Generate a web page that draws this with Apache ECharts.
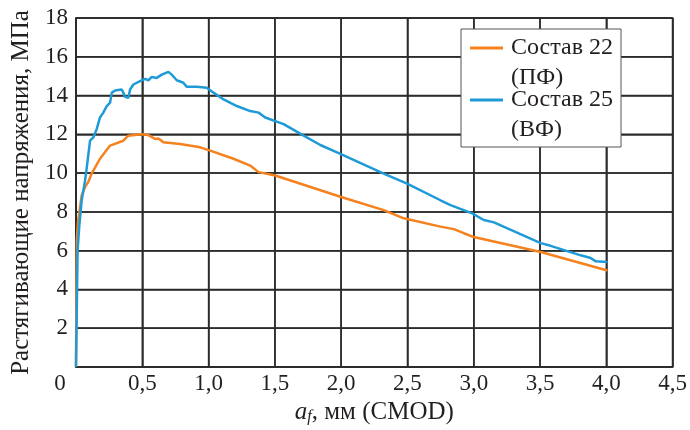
<!DOCTYPE html>
<html>
<head>
<meta charset="utf-8">
<script src="https://cdn.jsdelivr.net/npm/echarts@6/dist/echarts.min.js"></script>
<style>
  html, body { margin: 0; padding: 0; background: #fff; }
  #chart { width: 690px; height: 430px; }
</style>
</head>
<body>
<div id="chart"></div>
<script>
// Состав 22 (ПФ) – [CMOD мм, напряжение МПа]
const sostav22 = [
  [0, 0], [0.003, 4], [0.006, 6.5], [0.015, 7.5], [0.043, 8.86], [0.07, 9.3], [0.093, 9.55],
  [0.118, 9.97], [0.181, 10.74], [0.257, 11.42], [0.357, 11.67], [0.395, 11.93], [0.496, 12.01],
  [0.546, 11.96], [0.597, 11.76], [0.622, 11.79], [0.659, 11.59], [0.785, 11.5], [0.937, 11.33],
  [1.012, 11.16], [1.188, 10.74], [1.314, 10.39], [1.377, 10.05], [1.503, 9.88], [1.994, 8.78],
  [2.321, 8.09], [2.472, 7.67], [2.749, 7.24], [2.85, 7.11], [2.925, 6.9], [3.0, 6.7],
  [3.505, 5.93], [4.008, 4.98]
];
// Состав 25 (ВФ)
const sostav25 = [
  [0, 0], [0.004, 2], [0.008, 4], [0.012, 6], [0.025, 7.3], [0.043, 8.6], [0.068, 9.6],
  [0.08, 10.22], [0.106, 11.67], [0.131, 11.84], [0.156, 12.27], [0.181, 12.87], [0.206, 13.12],
  [0.232, 13.46], [0.257, 13.63], [0.27, 14.15], [0.295, 14.26], [0.345, 14.31], [0.357, 14.15],
  [0.37, 13.94], [0.395, 13.89], [0.408, 14.31], [0.433, 14.57], [0.483, 14.74], [0.521, 14.86],
  [0.546, 14.79], [0.572, 14.96], [0.609, 14.91], [0.647, 15.08], [0.697, 15.22], [0.722, 15.08],
  [0.76, 14.79], [0.81, 14.66], [0.836, 14.45], [0.911, 14.45], [0.987, 14.4], [1.037, 14.15],
  [1.113, 13.8], [1.213, 13.46], [1.314, 13.2], [1.377, 13.12], [1.427, 12.87], [1.566, 12.53],
  [1.717, 11.93], [1.843, 11.45], [1.994, 10.99], [2.321, 9.97], [2.497, 9.46], [2.749, 8.6],
  [2.825, 8.35], [2.988, 7.92], [3.076, 7.58], [3.152, 7.46], [3.505, 6.39], [3.58, 6.25],
  [3.807, 5.76], [3.882, 5.62], [3.92, 5.45], [4.008, 5.42]
];
const seriesNames = ['Состав 22\n(ПФ)', 'Состав 25\n(ВФ)'];
const seriesColors = ['#F5821F', '#1E9BD7'];
// сетка
const xTicks = [0, 0.5, 1.0, 1.5, 2.0, 2.5, 3.0, 3.5, 4.0, 4.5];
const yTicks = [0, 2, 4, 6, 8, 10, 12, 14, 16, 18];

const font = 'Liberation Serif';
const ink = '#231f20';
const gridColor = '#2b2b2b';

const xMin = xTicks[0], xMax = xTicks[xTicks.length - 1];
const yMin = yTicks[0], yMax = yTicks[yTicks.length - 1];

let chart = echarts.init(document.getElementById('chart'));

// линии сетки отдельными сериями (splitLine в этой сборке пропадает)
const gridSeries = (pairs) => pairs.map(d => ({
  type: 'line', data: d, showSymbol: false, silent: true, z: 3,
  animation: false, legendHoverLink: false,
  lineStyle: { color: gridColor, width: 1.5 },
  emphasis: { disabled: true }, tooltip: { show: false }
}));

const gridLines = [
  ...xTicks.map(v => [[v, yMin], [v, yMax]]),
  ...yTicks.map(v => [[xMin, v], [xMax, v]])
];

let option = {
  animation: false,
  grid: {
    left: 76, right: 17, top: 18, bottom: 60,
    show: true, borderColor: gridColor, borderWidth: 1.5
  },
  legend: {
    left: 461, top: 29,
    orient: 'vertical',
    backgroundColor: '#fff',
    borderColor: '#555',
    borderWidth: 1,
    padding: [4, 8, 2, 9],
    itemGap: -8,
    itemWidth: 33,
    itemHeight: 60,
    z: 10,
    icon: 'path://M0,0L0,0M0,13.5H33V16.5H0ZM0,60L0,60',
    textStyle: { fontFamily: font, fontSize: 24, lineHeight: 30, color: ink, padding: [0, 0, 0, 3] },
    data: seriesNames
  },
  xAxis: {
    type: 'value', min: xMin, max: xMax, interval: 0.5,
    name: '{i|a}{s|f}, мм (CMOD)',
    nameLocation: 'middle', nameGap: 33,
    nameTextStyle: {
      fontFamily: font, fontSize: 25, color: ink,
      rich: {
        i: { fontFamily: font, fontSize: 25, fontStyle: 'italic', color: ink },
        s: { fontFamily: font, fontSize: 16, fontStyle: 'italic', color: ink, verticalAlign: 'bottom', padding: [9, 0, 0, 0] }
      }
    },
    axisLine: { show: true, lineStyle: { color: gridColor, width: 1.5 } },
    axisTick: { show: false },
    splitLine: { show: true, lineStyle: { color: gridColor, width: 1.5 } },
    axisLabel: {
      fontFamily: font, fontSize: 23, color: ink, margin: 5,
      formatter: v => v === 0 ? '{o|0}' : v.toFixed(1).replace('.', ','),
      rich: { o: { fontFamily: font, fontSize: 23, color: ink, padding: [0, 32, 0, 0] } }
    }
  },
  yAxis: {
    type: 'value', min: yMin, max: yMax, interval: 2,
    name: 'Растягивающие напряжения, МПа',
    nameLocation: 'middle', nameGap: 41,
    nameTextStyle: { fontFamily: font, fontSize: 25, color: ink },
    axisLine: { show: true, lineStyle: { color: gridColor, width: 1.5 } },
    axisTick: { show: false },
    splitLine: { show: true, lineStyle: { color: gridColor, width: 1.5 } },
    axisLabel: {
      fontFamily: font, fontSize: 23, color: ink, margin: 8,
      formatter: v => v === 0 ? '' : String(v)
    }
  },
  series: [
    ...gridSeries(gridLines),
    {
      name: seriesNames[0], type: 'line', data: sostav22, showSymbol: false,
      color: seriesColors[0], lineStyle: { width: 2.5 }, z: 4
    },
    {
      name: seriesNames[1], type: 'line', data: sostav25, showSymbol: false,
      color: seriesColors[1], lineStyle: { width: 2.5 }, z: 4
    }
  ]
};

chart.setOption(option);
</script>
</body>
</html>
